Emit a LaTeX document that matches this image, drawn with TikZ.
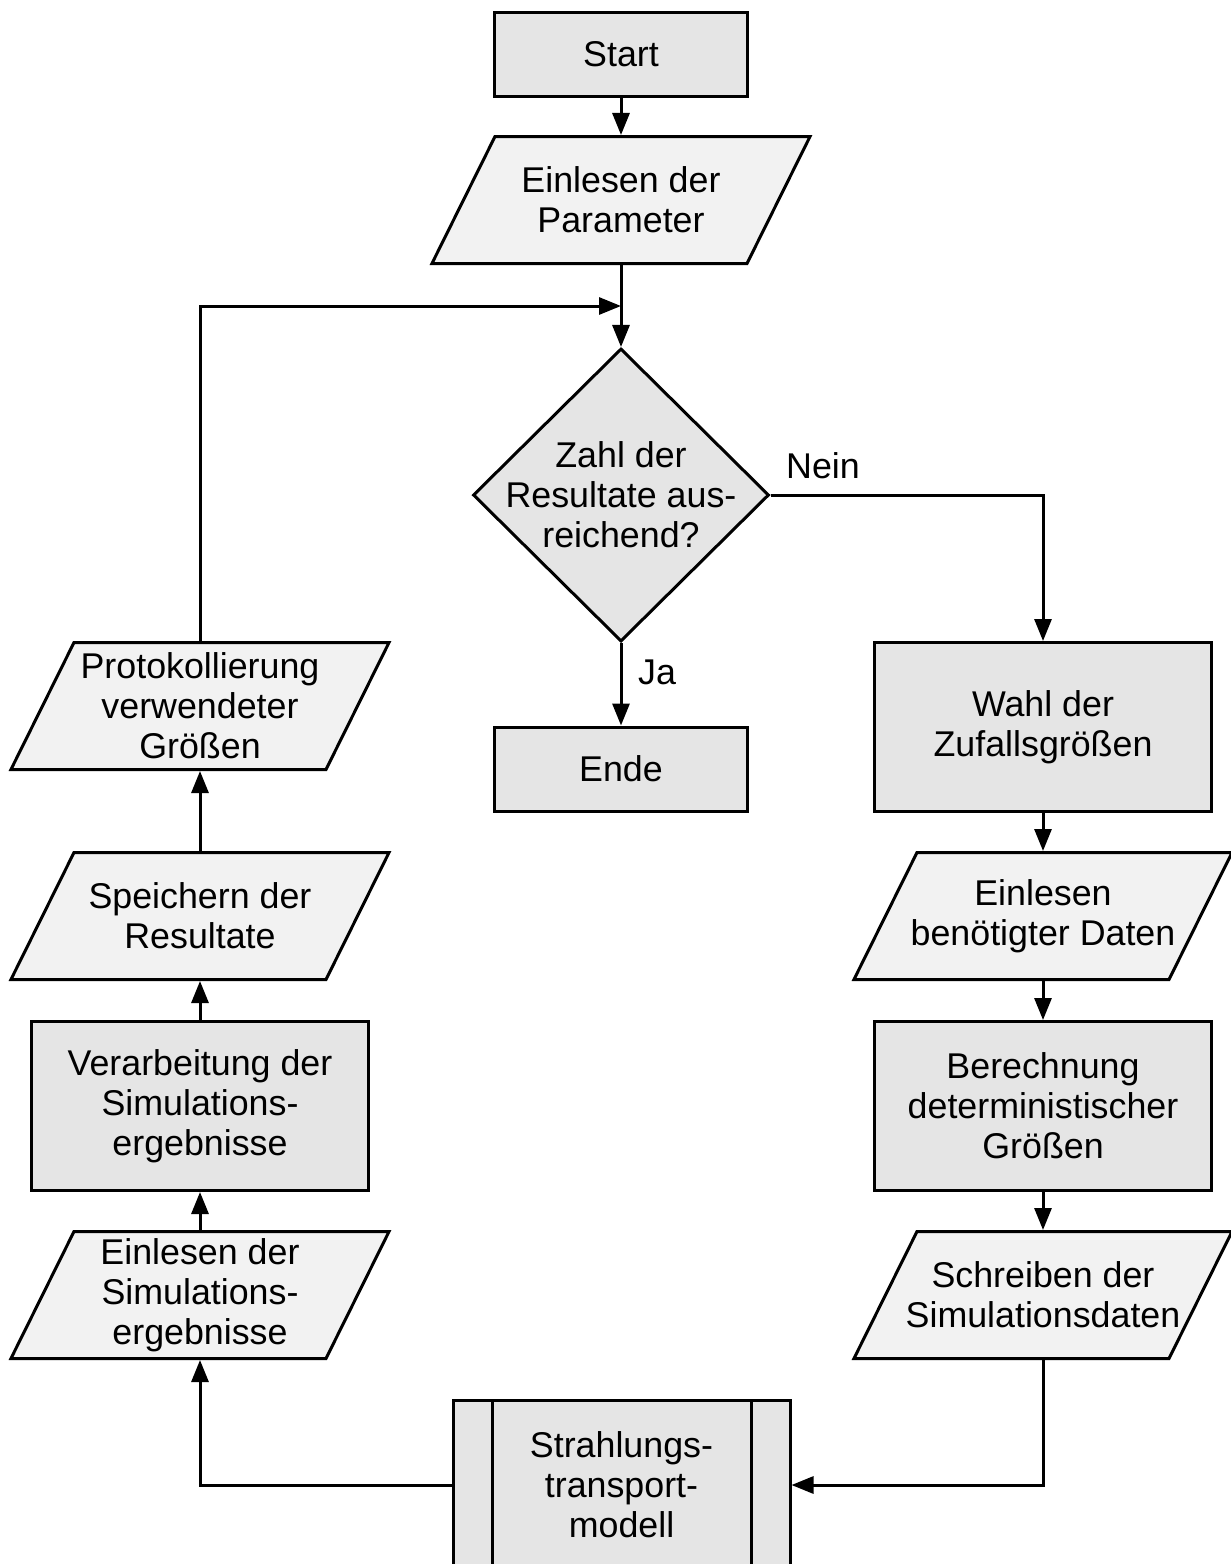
\documentclass[tikz,border=0pt]{standalone}
\usepackage{fontspec}
\setmainfont{Liberation Sans}
\usetikzlibrary{shapes.geometric,arrows.meta}

\begin{document}
\begin{tikzpicture}[x=0.5pt,y=-0.5pt,
  line width=1.5pt,
  font=\fontsize{17.9}{20}\selectfont,
  >={Triangle[length=11pt,width=8.5pt]},
  proc/.style={draw,fill=gray!20,align=center,inner sep=0pt,
    minimum width=168.5pt,minimum height=84.5pt},
  term/.style={proc,minimum width=126.5pt,minimum height=42pt},
  pred/.style={proc,path picture={
      \draw ([xshift=19.5pt]path picture bounding box.north west) -- ([xshift=19.5pt]path picture bounding box.south west);
      \draw ([xshift=-19.5pt]path picture bounding box.north east) -- ([xshift=-19.5pt]path picture bounding box.south east);}},
  io/.style={draw,fill=gray!10,trapezium,
    trapezium left angle=63.6,trapezium right angle=116.4,
    inner xsep=63pt,inner ysep=31.75pt,
    label={[align=center]center:#1}},
  dec/.style={draw,fill=gray!20,diamond,inner sep=0pt,
    minimum width=148pt,minimum height=146.5pt,
    label={[align=center]center:#1}}]

\useasboundingbox (0,0) rectangle (1231,1564);

%% mittlere Spalte
\node[term] (start) at (621,54) {Start};
\node[io={Einlesen der\\Parameter}] (param) at (621,200) {};
\node[dec={Zahl der\\Resultate aus-\\reichend?}] (check) at (621,495) {};
\node[term] (ende) at (621,769) {Ende};
\coordinate (merge) at (621,306);

%% rechte Spalte
\node[proc] (wahl) at (1043,727) {Wahl der\\Zufallsgrößen};
\node[io={Einlesen\\benötigter Daten}] (daten) at (1043,916) {};
\node[proc] (berech) at (1043,1106) {Berechnung\\deterministischer\\Größen};
\node[io={Schreiben der\\Simulationsdaten}] (schreib) at (1043,1295) {};

%% Modell unten
\node[pred] (modell) at (621.5,1485) {Strahlungs-\\transport-\\modell};

%% linke Spalte
\node[io={Einlesen der\\Simulations-\\ergebnisse}] (einsim) at (200,1295) {};
\node[proc] (verarb) at (200,1106) {Verarbeitung der\\Simulations-\\ergebnisse};
\node[io={Speichern der\\Resultate}] (speich) at (200,916) {};
\node[io={Protokollierung\\verwendeter\\Größen}] (proto) at (200,706) {};

%% Verbindungen
\draw[->] (start) -- (param);
\draw[->] (param) -- (check);
\draw[->] (proto.north) |- (merge);
\draw[->] (check.east) -| (wahl.north);
\node (nein) at (823,466) {Nein};
\draw[->] (check.south) -- (ende.north);
\node (ja) at (657,672) {Ja};
\draw[->] (wahl) -- (daten);
\draw[->] (daten) -- (berech);
\draw[->] (berech) -- (schreib);
\draw[->] (schreib.south) |- (modell.east);
\draw[->] (modell.west) -| (einsim.south);
\draw[->] (einsim) -- (verarb);
\draw[->] (verarb) -- (speich);
\draw[->] (speich) -- (proto);

\end{tikzpicture}
\end{document}
